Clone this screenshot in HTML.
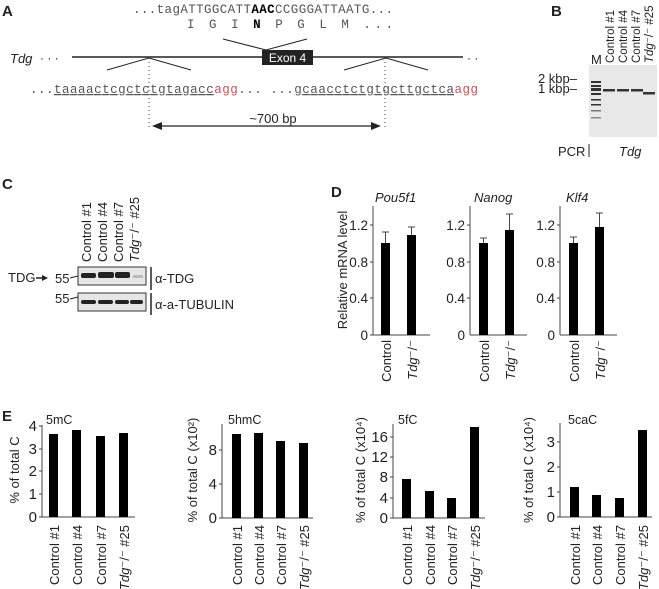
<!DOCTYPE html><html><head><style>body{margin:0;background:#fff}svg{display:block}text{font-family:"Liberation Sans",sans-serif;fill:#222}.m{font-family:"Liberation Mono",monospace}</style></head><body>
<svg width="659" height="589" viewBox="0 0 659 589">
<g font-size="15" font-weight="bold"><text x="2" y="16">A</text><text x="551" y="16">B</text><text x="2" y="189">C</text><text x="331" y="197">D</text><text x="2" y="421">E</text></g>
<!-- A -->
<text class="m" x="133" y="13" font-size="12.5" textLength="260" lengthAdjust="spacing" style="fill:#555">...tagATTGGCATT<tspan font-weight="bold" style="fill:#000">AAC</tspan>CCGGGATTAATG...</text>
<text class="m" x="187" y="28" font-size="12.5" textLength="206" lengthAdjust="spacing" style="fill:#555">I  G  I  <tspan font-weight="bold" style="fill:#000">N</tspan>  P  G  L  M ...</text>
<polyline points="223,39 266,50 307,39" fill="none" stroke="#222" stroke-width="1"/>
<line x1="72" y1="57" x2="463" y2="57" stroke="#222" stroke-width="1.5"/>
<text x="10" y="63" font-size="13" font-style="italic">Tdg</text><text x="40" y="62" font-size="12">· · ·</text><text x="467" y="62" font-size="12">· ·</text>
<rect x="262" y="50" width="51" height="15" fill="#222"/><text x="287.5" y="62" font-size="12" text-anchor="middle" style="fill:#fff">Exon 4</text>
<polyline points="107,70 149,58 191,70" fill="none" stroke="#222"/><polyline points="344,70 386,58 428,70" fill="none" stroke="#222"/>
<text class="m" x="30" y="93" font-size="12.5" textLength="448" lengthAdjust="spacing" style="fill:#555">...<tspan text-decoration="underline">taaaactcgctctgtagacc</tspan><tspan style="fill:#c0505a">agg</tspan>... ...<tspan text-decoration="underline">gcaacctctgtgcttgctca</tspan><tspan style="fill:#c0505a">agg</tspan></text>
<line x1="149" y1="62" x2="149" y2="128" stroke="#444" stroke-dasharray="1,3"/><line x1="385" y1="62" x2="385" y2="128" stroke="#444" stroke-dasharray="1,3"/>
<line x1="160" y1="126" x2="372" y2="126" stroke="#222" stroke-width="1.2"/><polygon points="152,126 162,122 162,130" fill="#222"/><polygon points="381,126 371,122 371,130" fill="#222"/>
<text x="273" y="123" font-size="13" text-anchor="middle">~700 bp</text>
<!-- B -->
<rect x="589" y="65" width="68" height="72" fill="#e8e8e8"/>
<g fill="#333"><rect x="591" y="81" width="10" height="2"/><rect x="591" y="85" width="10" height="2"/><rect x="591" y="88" width="10" height="3"/><rect x="591" y="93" width="10" height="2"/><rect x="591" y="99" width="10" height="1.5"/><rect x="591" y="104" width="10" height="1.5"/><rect x="591" y="110" width="10" height="1.5" fill="#777"/><rect x="591" y="117" width="10" height="1.5" fill="#888"/>
<rect x="603" y="89" width="12" height="2.5"/><rect x="617" y="89" width="12" height="2.5"/><rect x="631" y="89" width="12" height="2.5"/><rect x="643" y="92" width="12" height="2.5"/></g>
<text x="577" y="83" font-size="13" text-anchor="end">2 kbp–</text><text x="577" y="93" font-size="13" text-anchor="end">1 kbp–</text>
<text x="591" y="64" font-size="13">M</text>
<g font-size="11.5"><text transform="translate(614,63) rotate(-90)">Control #1</text><text transform="translate(627,63) rotate(-90)">Control #4</text><text transform="translate(640,63) rotate(-90)">Control #7</text><text transform="translate(653,63) rotate(-90)"><tspan font-style="italic">Tdg</tspan>⁻/⁻ #25</text></g>
<text x="558" y="156" font-size="13">PCR</text><line x1="589" y1="144" x2="589" y2="157" stroke="#222"/><text x="619" y="156" font-size="13" font-style="italic">Tdg</text>
<!-- C -->
<g font-size="13"><text transform="translate(91,262) rotate(-90)">Control #1</text><text transform="translate(107,262) rotate(-90)">Control #4</text><text transform="translate(123,262) rotate(-90)">Control #7</text><text transform="translate(139,262) rotate(-90)"><tspan font-style="italic">Tdg</tspan>⁻/⁻ #25</text></g>
<rect x="78" y="267" width="68" height="18" fill="#e6e6e6" stroke="#333"/><rect x="78" y="293" width="68" height="18" fill="#e6e6e6" stroke="#333"/>
<g fill="#222"><rect x="81" y="273" width="15" height="5" rx="2"/><rect x="98" y="272" width="16" height="6" rx="2"/><rect x="115" y="272" width="15" height="6" rx="2"/><rect x="133" y="275" width="10" height="3" fill="#bbb"/>
<rect x="81" y="300" width="15" height="4" rx="2"/><rect x="98" y="300" width="15" height="4" rx="2"/><rect x="115" y="300" width="14" height="4" rx="2"/><rect x="130" y="300" width="13" height="4" rx="2"/></g>
<text x="8" y="282" font-size="13">TDG</text><line x1="36" y1="278" x2="44" y2="278" stroke="#222" stroke-width="1.5"/><polygon points="48,278 42,275 42,281" fill="#222"/>
<text x="55" y="283" font-size="13">55</text><text x="55" y="303" font-size="13">55</text><line x1="70" y1="278" x2="78" y2="276" stroke="#222"/><line x1="70" y1="299" x2="78" y2="297" stroke="#222"/>
<line x1="151" y1="267" x2="151" y2="290" stroke="#222" stroke-width="1.5"/><line x1="151" y1="293" x2="151" y2="315" stroke="#222" stroke-width="1.5"/>
<text x="155" y="283" font-size="13">α-TDG</text><text x="155" y="309" font-size="13">α-a-TUBULIN</text>
<!-- D -->
<text transform="translate(347,270) rotate(-90)" font-size="13" text-anchor="middle">Relative mRNA level</text>
<g font-size="13.5" stroke-width="1">
<g transform="translate(373,0)"><line x1="0" y1="206" x2="0" y2="335" stroke="#444"/><line x1="0" y1="335" x2="57" y2="335" stroke="#444"/>
<line x1="-3" y1="335" x2="0" y2="335" stroke="#444"/><line x1="-3" y1="298" x2="0" y2="298" stroke="#444"/><line x1="-3" y1="262" x2="0" y2="262" stroke="#444"/><line x1="-3" y1="225" x2="0" y2="225" stroke="#444"/>
<text x="-5" y="340" text-anchor="end">0</text><text x="-5" y="303" text-anchor="end">0.4</text><text x="-5" y="267" text-anchor="end">0.8</text><text x="-5" y="230" text-anchor="end">1.2</text></g>
<g transform="translate(470,0)"><line x1="0" y1="206" x2="0" y2="335" stroke="#444"/><line x1="0" y1="335" x2="57" y2="335" stroke="#444"/>
<line x1="-3" y1="298" x2="0" y2="298" stroke="#444"/><line x1="-3" y1="262" x2="0" y2="262" stroke="#444"/><line x1="-3" y1="225" x2="0" y2="225" stroke="#444"/>
<text x="-5" y="340" text-anchor="end">0</text><text x="-5" y="303" text-anchor="end">0.4</text><text x="-5" y="267" text-anchor="end">0.8</text><text x="-5" y="230" text-anchor="end">1.2</text></g>
<g transform="translate(560,0)"><line x1="0" y1="206" x2="0" y2="335" stroke="#444"/><line x1="0" y1="335" x2="57" y2="335" stroke="#444"/>
<line x1="-3" y1="298" x2="0" y2="298" stroke="#444"/><line x1="-3" y1="262" x2="0" y2="262" stroke="#444"/><line x1="-3" y1="225" x2="0" y2="225" stroke="#444"/>
<text x="-5" y="340" text-anchor="end">0</text><text x="-5" y="303" text-anchor="end">0.4</text><text x="-5" y="267" text-anchor="end">0.8</text><text x="-5" y="230" text-anchor="end">1.2</text></g>
</g>
<g font-size="13" font-style="italic"><text x="375" y="202">Pou5f1</text><text x="474" y="202">Nanog</text><text x="566" y="202">Klf4</text></g>
<g fill="#000">
<rect x="381" y="243" width="9" height="92"/><rect x="407" y="235" width="9" height="100"/>
<rect x="479" y="243" width="9" height="92"/><rect x="505" y="230" width="9" height="105"/>
<rect x="569" y="243" width="9" height="92"/><rect x="595" y="227" width="9" height="108"/></g>
<g stroke="#444"><path d="M385.5 243V232M382 232h7M411.5 235V227M408 227h7M483.5 243V238M480 238h7M509.5 230V214M506 214h7M573.5 243V237M570 237h7M599.5 227V213M596 213h7"/></g>
<g font-size="13"><text transform="translate(391,340) rotate(-90)" text-anchor="end">Control</text><text transform="translate(417,340) rotate(-90)" text-anchor="end"><tspan font-style="italic">Tdg</tspan>⁻/⁻</text>
<text transform="translate(489,340) rotate(-90)" text-anchor="end">Control</text><text transform="translate(515,340) rotate(-90)" text-anchor="end"><tspan font-style="italic">Tdg</tspan>⁻/⁻</text>
<text transform="translate(579,340) rotate(-90)" text-anchor="end">Control</text><text transform="translate(605,340) rotate(-90)" text-anchor="end"><tspan font-style="italic">Tdg</tspan>⁻/⁻</text></g>
<!-- E -->
<g font-size="12.5">
<text x="46" y="424">5mC</text><text x="228" y="424">5hmC</text><text x="398" y="424">5fC</text><text x="568" y="424">5caC</text>
<text transform="translate(19,470) rotate(-90)" text-anchor="middle" font-size="13">% of total C</text>
<text transform="translate(197,470) rotate(-90)" text-anchor="middle" font-size="13">% of total C (x10²)</text>
<text transform="translate(365,470) rotate(-90)" text-anchor="middle" font-size="13">% of total C (x10⁴)</text>
<text transform="translate(533,470) rotate(-90)" text-anchor="middle" font-size="13">% of total C (x10⁴)</text>
</g>
<g stroke="#444" fill="none">
<path d="M42 425V517H135M39 517h3M39 494h3M39 471h3M39 449h3M39 426h3"/>
<path d="M222 424V518H313M219 518h3M219 484h3M219 450h3"/>
<path d="M393 424V518H485M390 518h3M390 498h3M390 477h3M390 457h3M390 437h3"/>
<path d="M560 423V517H652M557 517h3M557 492h3M557 467h3M557 442h3"/>
</g>
<g font-size="15" text-anchor="end">
<text x="37" y="522">0</text><text x="37" y="499">1</text><text x="37" y="476">2</text><text x="37" y="454">3</text><text x="37" y="431">4</text>
<text x="217" y="523">0</text><text x="217" y="489">4</text><text x="217" y="455">8</text>
<text x="388" y="523">0</text><text x="388" y="503">4</text><text x="388" y="482">8</text><text x="388" y="462">12</text><text x="388" y="442">16</text>
<text x="555" y="522">0</text><text x="555" y="497">1</text><text x="555" y="472">2</text><text x="555" y="447">3</text>
</g>
<g fill="#000">
<rect x="49" y="434" width="9" height="83"/><rect x="72" y="430" width="9" height="87"/><rect x="96" y="436" width="9" height="81"/><rect x="119" y="433" width="9" height="84"/>
<rect x="232" y="434" width="9" height="84"/><rect x="254" y="433" width="9" height="85"/><rect x="276" y="441" width="9" height="77"/><rect x="299" y="443" width="9" height="75"/>
<rect x="402" y="479" width="9" height="39"/><rect x="425" y="491" width="9" height="27"/><rect x="447" y="498" width="9" height="20"/><rect x="470" y="427" width="9" height="91"/>
<rect x="570" y="487" width="9" height="30"/><rect x="592" y="495" width="9" height="22"/><rect x="615" y="498" width="9" height="19"/><rect x="638" y="430" width="9" height="87"/>
</g>
<g font-size="13" text-anchor="end">
<text transform="translate(59,525) rotate(-90)">Control #1</text><text transform="translate(82,525) rotate(-90)">Control #4</text><text transform="translate(106,525) rotate(-90)">Control #7</text><text transform="translate(129,525) rotate(-90)"><tspan font-style="italic">Tdg</tspan>⁻/⁻ #25</text>
<text transform="translate(242,525) rotate(-90)">Control #1</text><text transform="translate(264,525) rotate(-90)">Control #4</text><text transform="translate(286,525) rotate(-90)">Control #7</text><text transform="translate(309,525) rotate(-90)"><tspan font-style="italic">Tdg</tspan>⁻/⁻ #25</text>
<text transform="translate(412,525) rotate(-90)">Control #1</text><text transform="translate(435,525) rotate(-90)">Control #4</text><text transform="translate(457,525) rotate(-90)">Control #7</text><text transform="translate(480,525) rotate(-90)"><tspan font-style="italic">Tdg</tspan>⁻/⁻ #25</text>
<text transform="translate(580,525) rotate(-90)">Control #1</text><text transform="translate(602,525) rotate(-90)">Control #4</text><text transform="translate(625,525) rotate(-90)">Control #7</text><text transform="translate(648,525) rotate(-90)"><tspan font-style="italic">Tdg</tspan>⁻/⁻ #25</text>
</g>
</svg></body></html>
